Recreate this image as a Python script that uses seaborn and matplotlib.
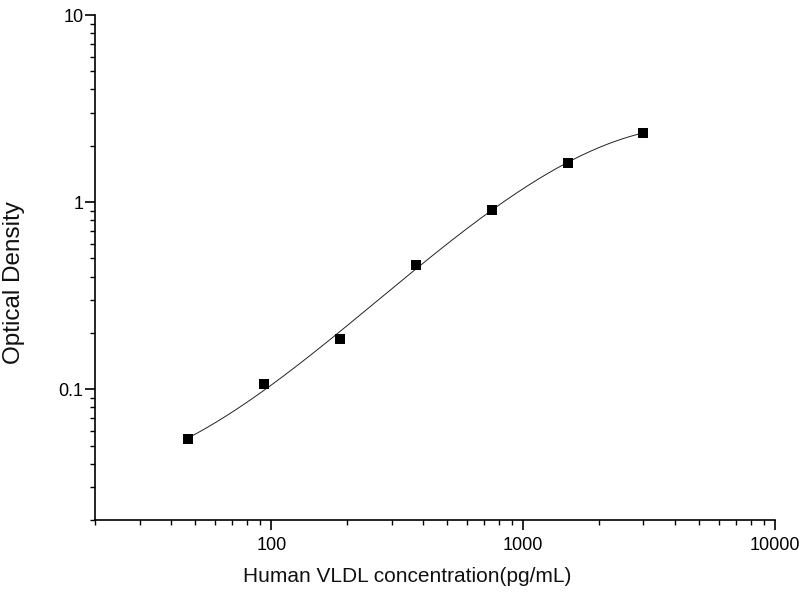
import numpy as np
import pandas as pd
import matplotlib
matplotlib.use("Agg")
import matplotlib.pyplot as plt
import seaborn as sns
from matplotlib.ticker import LogLocator, FixedLocator, FixedFormatter, NullFormatter

# Data
concentration = [46.875, 93.75, 187.5, 375, 750, 1500, 3000]
optical_density = [0.054, 0.106, 0.185, 0.461, 0.911, 1.61, 2.35]

x_ticks = [100, 1000, 10000]
x_tick_labels = ["100", "1000", "10000"]
y_ticks = [0.1, 1, 10]
y_tick_labels = ["0.1", "1", "10"]

sns.set_theme(style="ticks")
plt.rcParams['font.family'] = ['Liberation Sans', 'DejaVu Sans']

df = pd.DataFrame({"conc": concentration, "od": optical_density})

# Smooth fitted curve (cubic fit in log-log space)
lx = np.log10(df["conc"].values)
ly = np.log10(df["od"].values)
coef = np.polyfit(lx, ly, 3)
gx = np.linspace(lx.min(), lx.max(), 300)
curve = pd.DataFrame({"conc": 10 ** gx, "od": 10 ** np.polyval(coef, gx)})

fig = plt.figure(figsize=(8, 6), dpi=100)
ax = fig.add_axes([0.119, 0.1333, 0.85, 0.8417])

sns.lineplot(data=curve, x="conc", y="od", ax=ax, color="#222222", linewidth=0.7)
sns.scatterplot(data=df, x="conc", y="od", ax=ax, marker="s", s=55, color="black",
                edgecolor="black", linewidth=0, zorder=3)

ax.set_xscale("log")
ax.set_yscale("log")
ax.set_xlim(20, 10000)
ax.set_ylim(0.02, 10)

ax.xaxis.set_major_locator(FixedLocator(x_ticks))
ax.xaxis.set_major_formatter(FixedFormatter(x_tick_labels))
ax.yaxis.set_major_locator(FixedLocator(y_ticks))
ax.yaxis.set_major_formatter(FixedFormatter(y_tick_labels))
ax.xaxis.set_minor_locator(LogLocator(base=10, subs=np.arange(2, 10), numticks=20))
ax.yaxis.set_minor_locator(LogLocator(base=10, subs=np.arange(2, 10), numticks=20))
ax.xaxis.set_minor_formatter(NullFormatter())
ax.yaxis.set_minor_formatter(NullFormatter())

for side in ["top", "right"]:
    ax.spines[side].set_visible(False)
for side in ["left", "bottom"]:
    ax.spines[side].set_linewidth(1.2)
    ax.spines[side].set_color("black")

ax.tick_params(which="major", direction="out", length=7, width=1.2, colors="black",
               labelsize=13)
ax.tick_params(axis="x", which="major", pad=5)
ax.tick_params(axis="y", which="major", pad=1.5)
ax.tick_params(which="minor", direction="out", length=3.8, width=1.0, colors="black")

ax.set_xlabel("Human VLDL concentration(pg/mL)", fontsize=15, color="#111111")
ax.set_ylabel("Optical Density", fontsize=17.5, color="#111111")
ax.xaxis.set_label_coords(0.459, -0.093)
ax.yaxis.set_label_coords(-0.103, 0.471)
ax.grid(False)

fig.savefig("out.png", dpi=100, facecolor="white")
